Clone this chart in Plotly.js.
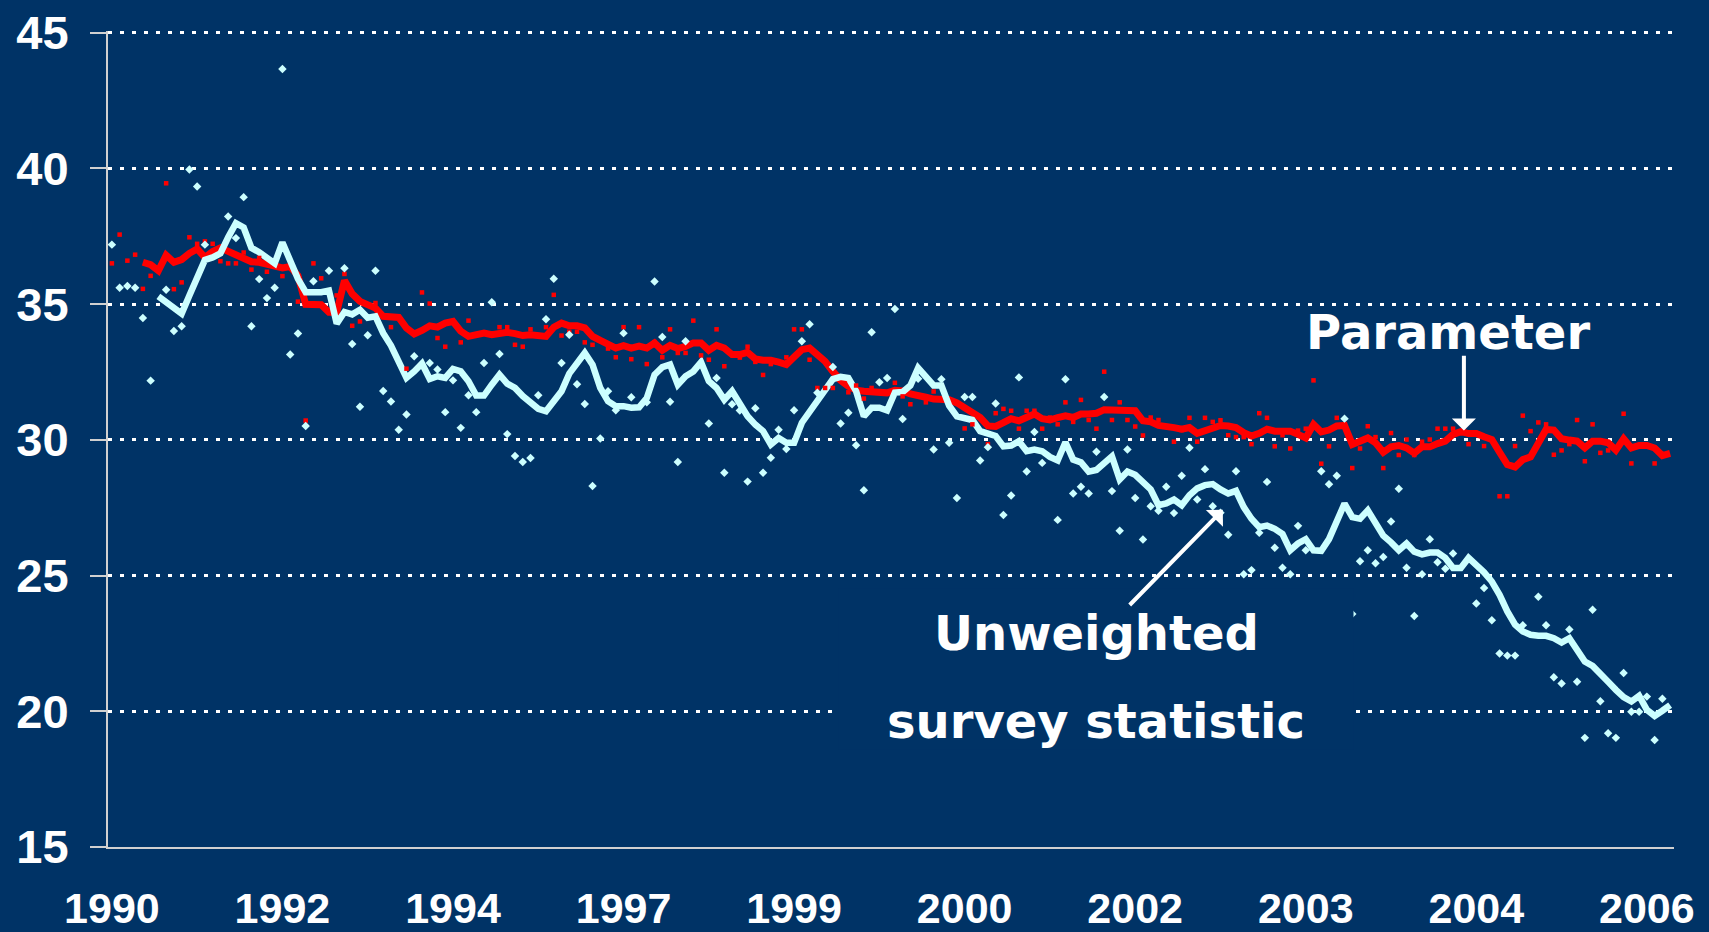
<!DOCTYPE html>
<html>
<head>
<meta charset="utf-8">
<script src="https://cdn.plot.ly/plotly-3.0.1.min.js"></script>
<style>
  html, body { margin: 0; padding: 0; background: #003366; }
  #chart { width: 1709px; height: 932px; }
</style>
</head>
<body>
<div id="chart"></div>
<script>
// Observation index 0..201 (survey rounds); labels shown every 22 rounds
const tickPositions = [0, 22, 44, 66, 88, 110, 132, 154, 176, 198];
const tickLabels = ["1990", "1992", "1994", "1997", "1999", "2000", "2002", "2003", "2004", "2006"];

// Smoothed parameter (red line)
const parameterLine = [
  null,null,null,null,36.54,36.45,36.23,36.8,36.54,36.64,
  36.87,37.03,36.72,36.94,37.07,36.94,36.78,36.7,36.56,36.54,
  36.48,36.42,36.33,36.38,36.05,34.99,34.98,34.98,34.7,34.7,
  35.87,35.38,35.1,34.96,34.85,34.55,34.52,34.51,34.12,33.9,
  34.03,34.2,34.15,34.3,34.36,34.0,33.81,33.87,33.93,33.87,
  33.93,33.96,33.91,33.84,33.87,33.81,33.81,34.15,34.3,34.2,
  34.2,34.12,33.81,33.66,33.5,33.38,33.47,33.38,33.45,33.38,
  33.57,33.3,33.48,33.36,33.44,33.57,33.57,33.3,33.48,33.38,
  33.14,33.14,33.22,32.98,32.93,32.93,32.86,32.77,33.05,33.32,
  33.38,33.17,32.89,32.52,32.19,31.97,31.83,31.79,31.79,31.73,
  31.73,31.82,31.8,31.69,31.65,31.57,31.5,31.5,31.48,31.36,
  31.19,31.01,30.82,30.51,30.49,30.63,30.78,30.7,30.86,30.95,
  30.78,30.73,30.82,30.88,30.82,30.95,30.95,30.98,31.11,31.11,
  31.11,31.11,31.07,30.7,30.66,30.53,30.51,30.45,30.39,30.45,
  30.24,30.32,30.45,30.53,30.51,30.45,30.26,30.14,30.24,30.39,
  30.32,30.32,30.32,30.2,30.07,30.57,30.29,30.36,30.51,30.53,
  29.83,29.95,30.07,29.89,29.54,29.74,29.79,29.7,29.51,29.74,
  29.74,29.86,29.95,30.2,30.3,30.23,30.23,30.11,30.01,29.54,
  29.09,29.0,29.27,29.37,29.89,30.38,30.36,30.04,29.99,29.95,
  29.7,29.95,29.95,29.89,29.62,30.04,29.7,29.79,29.79,29.7,
  29.42,29.5
];

// Smoothed unweighted survey statistic (light cyan line)
const surveyLine = [
  null,null,null,null,null,null,35.28,35.07,34.85,34.65,
  35.32,35.99,36.63,36.72,36.87,37.46,37.98,37.82,37.07,36.91,
  36.7,36.5,37.27,36.6,35.93,35.44,35.44,35.44,35.5,34.28,
  34.71,34.62,34.79,34.5,34.55,33.93,33.47,32.83,32.28,32.52,
  32.81,32.24,32.34,32.28,32.61,32.52,32.16,31.63,31.63,32.03,
  32.4,32.07,31.91,31.61,31.34,31.14,31.05,31.42,31.79,32.44,
  32.83,33.2,32.77,31.91,31.42,31.24,31.24,31.18,31.2,31.54,
  32.4,32.68,32.77,32.03,32.34,32.52,32.86,32.16,31.91,31.48,
  31.79,31.3,30.87,30.56,30.32,29.83,30.07,29.89,29.89,30.63,
  31.05,31.48,31.91,32.24,32.32,32.28,31.79,30.87,31.18,31.18,
  31.08,31.74,31.76,32.0,32.65,32.35,32.0,32.0,31.26,30.86,
  30.82,30.73,30.32,30.26,30.14,29.76,29.79,29.95,29.58,29.64,
  29.58,29.37,29.24,29.91,29.27,29.17,28.83,28.89,29.17,29.39,
  28.54,28.83,28.71,28.46,28.17,27.59,27.66,27.8,27.59,27.96,
  28.21,28.33,28.37,28.17,28.02,28.12,27.52,27.09,26.78,26.84,
  26.72,26.53,25.93,26.18,26.34,25.93,25.91,26.34,26.97,27.65,
  27.15,27.09,27.4,26.97,26.47,26.22,25.93,26.18,25.88,25.78,
  25.85,25.85,25.65,25.28,25.28,25.65,25.4,25.12,24.78,24.29,
  23.68,23.19,22.94,22.82,22.78,22.78,22.69,22.53,22.69,22.29,
  21.83,21.67,21.34,21.09,20.79,20.52,20.36,20.57,20.05,19.83,
  20.02,20.23
];

// Raw parameter values (red squares)
const parameterRaw = [
  36.5,37.56,36.6,36.82,35.56,36.04,null,39.45,35.55,35.8,
  37.46,37.22,37.31,37.22,36.58,36.5,36.5,36.9,36.27,36.7,
  36.19,null,36.03,null,35.09,30.71,36.5,35.95,null,35.32,
  36.11,34.2,34.36,null,35.04,null,34.15,null,32.62,null,
  35.43,35.02,33.75,33.43,null,33.59,34.39,null,null,null,
  34.15,34.15,33.5,33.43,34.07,null,34.15,35.34,33.84,33.98,
  33.98,33.59,33.5,null,33.36,33.04,34.15,32.97,34.15,32.79,
  33.6,33.04,34.07,33.2,33.2,34.39,33.11,32.95,34.07,32.71,
  null,33.03,33.43,32.87,32.39,32.79,null,33.04,34.07,34.07,
  32.95,31.91,31.91,31.91,null,31.75,32.0,31.52,31.91,null,
  null,32.1,31.6,31.31,null,31.38,31.78,null,null,null,
  30.42,30.57,null,29.84,30.98,31.14,31.07,30.41,31.07,31.07,
  30.41,30.82,30.57,31.38,30.66,31.47,30.73,30.41,32.51,30.73,
  31.38,30.73,30.49,30.16,30.82,30.73,null,29.93,30.36,30.81,
  29.93,30.81,30.66,30.72,30.17,30.1,30.1,29.84,30.98,30.81,
  29.76,30.17,29.68,30.34,30.41,32.19,29.12,29.76,30.81,null,
  28.96,29.68,30.5,30.1,28.96,30.25,29.44,30.01,29.44,29.93,
  30.01,30.41,30.41,30.41,null,29.84,null,29.77,null,27.92,
  27.92,29.77,30.89,30.32,30.64,30.57,29.45,29.61,29.84,30.73,
  29.21,30.57,29.52,29.61,null,30.96,29.13,null,null,29.13,
  null,null
];

// Raw unweighted survey values (light cyan diamonds)
const surveyRaw = [
  37.19,35.6,35.67,35.6,34.49,32.18,null,35.53,34.01,34.18,
  39.96,39.33,37.19,null,null,38.23,37.43,38.94,34.18,35.92,
  35.22,35.6,43.66,33.14,33.92,30.51,35.84,null,36.23,null,
  36.32,33.53,31.22,33.85,36.23,31.8,31.41,30.37,30.93,33.08,
  null,32.83,32.59,31.02,32.19,30.44,31.64,31.02,32.83,35.07,
  33.16,30.21,29.4,29.18,29.33,31.64,34.44,35.93,32.83,33.87,
  32.05,31.32,28.3,30.05,31.79,31.09,33.93,31.57,null,31.38,
  35.83,33.79,31.4,29.18,33.63,null,null,30.6,32.28,28.79,
  31.31,31.08,28.46,31.16,28.79,29.34,30.37,29.66,31.09,33.63,
  34.26,31.73,null,32.68,30.6,31.0,29.8,28.14,33.96,32.12,
  32.28,34.82,30.77,null,32.25,null,29.64,32.23,29.89,27.86,
  31.58,31.58,29.24,29.73,31.34,27.23,27.95,32.3,28.83,30.29,
  29.15,null,27.05,32.23,28.02,28.27,28.02,29.56,31.58,28.11,
  26.65,29.64,27.86,26.33,27.55,27.39,28.27,27.3,28.68,29.71,
  27.8,28.92,27.55,27.31,26.5,28.84,25.05,25.2,26.58,28.45,
  26.02,25.29,25.05,26.83,25.93,null,28.84,28.36,28.68,30.78,
  23.58,25.53,25.93,25.45,25.68,26.99,28.2,25.29,23.51,25.05,
  26.34,25.49,25.25,25.81,null,null,23.97,24.54,23.35,22.13,
  22.05,22.05,23.17,null,24.22,23.17,21.25,21.02,23.01,21.09,
  19.02,23.74,20.37,19.19,19.02,21.41,19.98,19.98,20.54,18.94,
  20.46,null
];

const idx = parameterLine.map((_, i) => i);

const BG = '#003366';
const RED = '#ff0000';
const CYAN = '#ccffff';

const traces = [
  { x: idx, y: parameterLine, type: 'scatter', mode: 'lines',
    line: { color: RED, width: 7 }, hoverinfo: 'skip', connectgaps: false },
  { x: idx, y: surveyLine, type: 'scatter', mode: 'lines',
    line: { color: CYAN, width: 6.5 }, hoverinfo: 'skip', connectgaps: false },
  { x: idx, y: parameterRaw, type: 'scatter', mode: 'markers',
    marker: { symbol: 'square', size: 4.5, color: RED }, hoverinfo: 'skip' },
  { x: idx, y: surveyRaw, type: 'scatter', mode: 'markers',
    marker: { symbol: 'diamond', size: 6.5, color: CYAN }, hoverinfo: 'skip' }
];

const annFont = { family: 'DejaVu Sans, Verdana, sans-serif', size: 48, color: 'white', weight: 'bold' };

const layout = {
  width: 1709, height: 932,
  paper_bgcolor: BG, plot_bgcolor: BG,
  showlegend: false,
  margin: { l: 108, r: 35, t: 31, b: 85 },
  xaxis: {
    range: [-0.5, 201.5],
    tickmode: 'array', tickvals: tickPositions, ticktext: tickLabels,
    showgrid: false, zeroline: false,
    showline: true, linecolor: '#d0d0d0', linewidth: 2,
    ticks: '', ticklabelstandoff: 22,
    tickfont: { family: 'Liberation Sans, Arial, sans-serif', size: 43, color: 'white', weight: 'bold' }
  },
  yaxis: {
    range: [15, 45.06], dtick: 5, tick0: 15,
    showgrid: true, gridcolor: 'white', gridwidth: 3, griddash: '4px,8px',
    zeroline: false,
    showline: true, linecolor: '#d0d0d0', linewidth: 2,
    ticks: 'outside', ticklen: 16, tickwidth: 2, tickcolor: '#d0d0d0',
    ticklabelstandoff: 12,
    tickfont: { family: 'Liberation Sans, Arial, sans-serif', size: 47, color: 'white', weight: 'bold' }
  },
  annotations: [
    // text frame behind the two-line label (hides the gridline)
    { xref: 'x', yref: 'y', x: 127.0, y: 21.55, showarrow: false,
      text: 'survey statistic', font: annFont, bgcolor: BG,
      width: 514, height: 160, valign: 'bottom', borderpad: 0 },
    { xref: 'x', yref: 'y', x: 127.0, y: 22.87, showarrow: false,
      text: 'Unweighted', font: annFont },
    { xref: 'x', yref: 'y', x: 143.3, y: 27.42, axref: 'x', ayref: 'y', ax: 131.1, ay: 23.86,
      text: '', showarrow: true, arrowhead: 1, arrowsize: 1, arrowwidth: 4, arrowcolor: 'white' },
    { xref: 'x', yref: 'y', x: 172.4, y: 33.96, showarrow: false,
      text: 'Parameter', font: annFont },
    { xref: 'x', yref: 'y', x: 174.4, y: 30.34, axref: 'x', ayref: 'y', ax: 174.4, ay: 33.15,
      text: '', showarrow: true, arrowhead: 1, arrowsize: 1, arrowwidth: 4, arrowcolor: 'white' }
  ]
};

Plotly.newPlot('chart', traces, layout, { staticPlot: true, displayModeBar: false });
</script>
</body>
</html>
